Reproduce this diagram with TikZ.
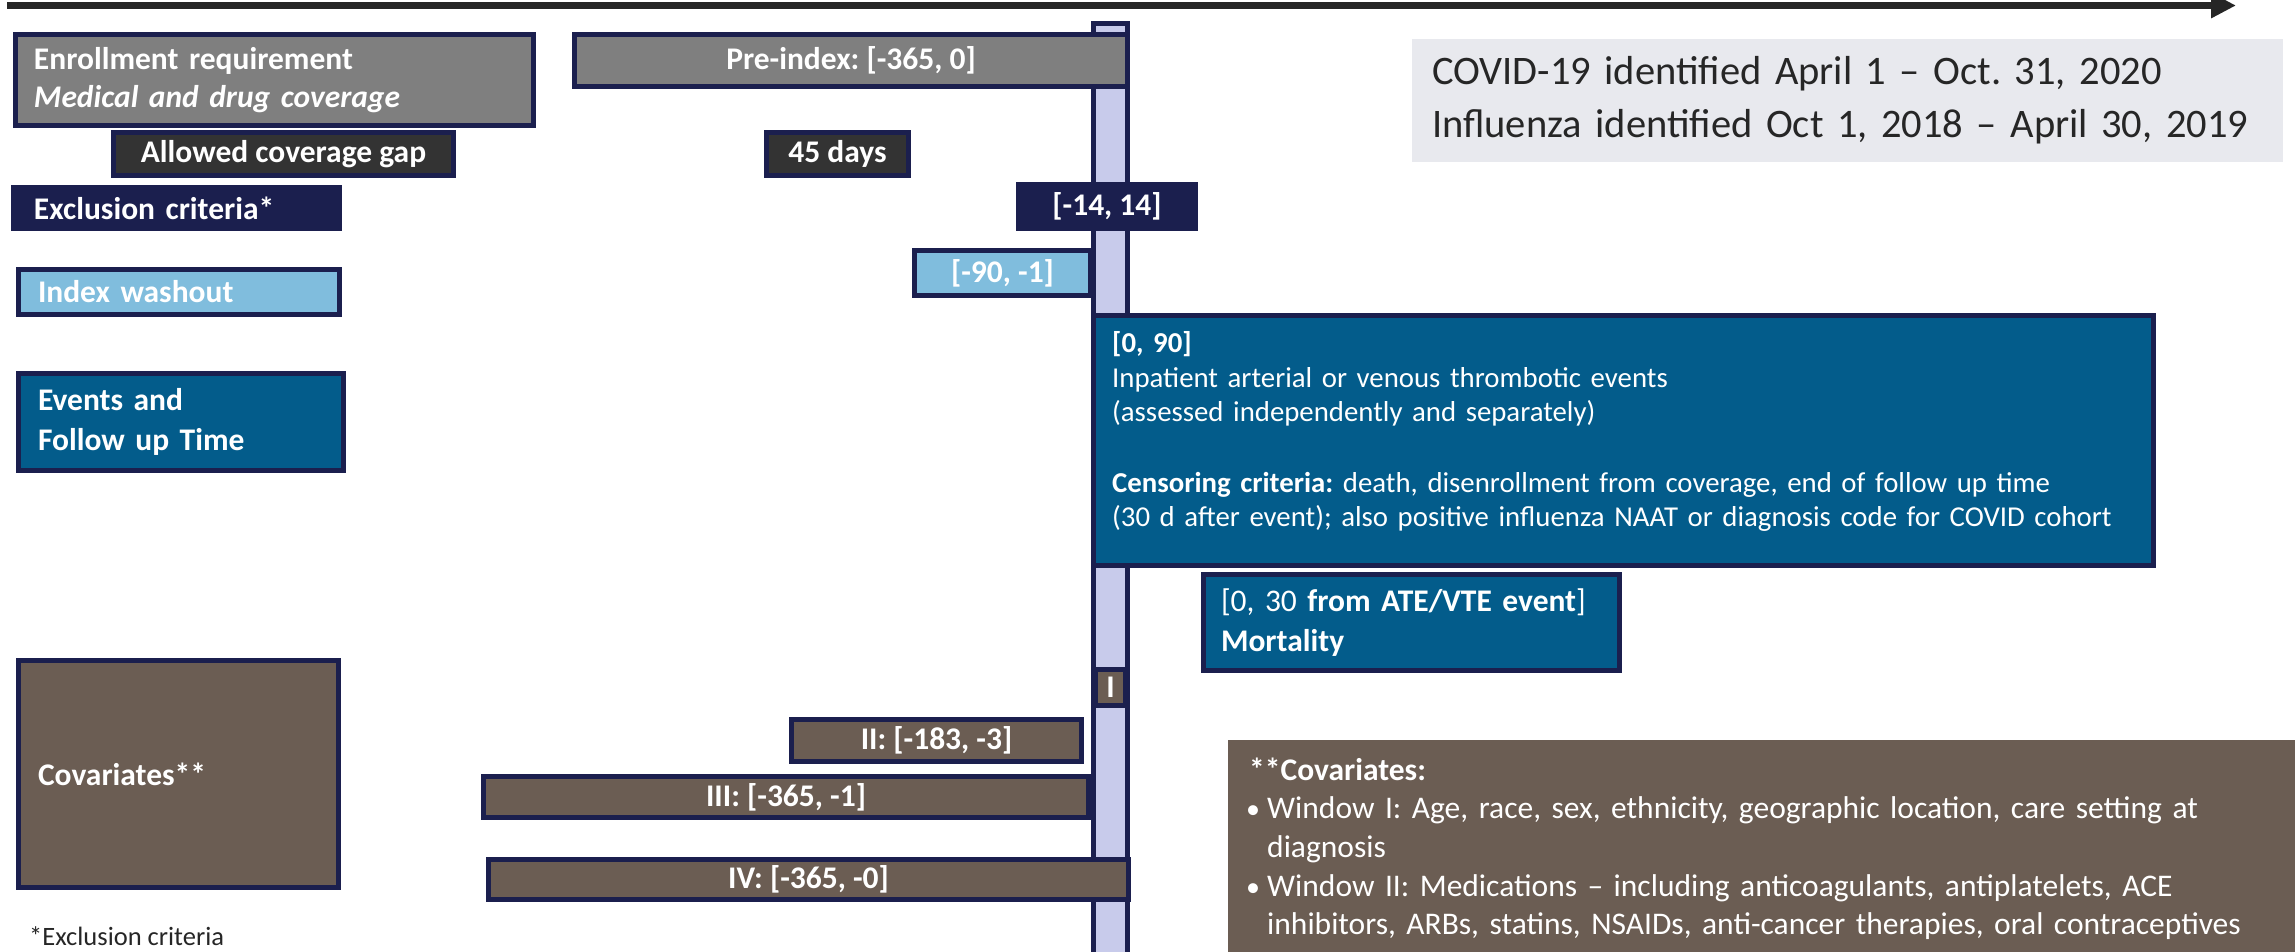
\documentclass[tikz,border=0pt]{standalone}
\usepackage{fontspec}
\setmainfont{Carlito}
\usetikzlibrary{arrows.meta}
\definecolor{navy}{HTML}{1B1F4E}
\definecolor{boxgray}{HTML}{7F7F7F}
\definecolor{gapgray}{HTML}{333333}
\definecolor{lightblue}{HTML}{80BDDD}
\definecolor{evblue}{HTML}{035C8B}
\definecolor{covbrown}{HTML}{6B5D53}
\definecolor{barlav}{HTML}{C8CBEB}
\definecolor{notegray}{HTML}{E8E9EE}
\definecolor{arrowdark}{HTML}{262626}
\tikzset{
  bbox/.style={draw=navy, line width=5pt, inner sep=0pt, text=white,
    font=\fontsize{31.5}{38}\selectfont\bfseries},
  plaintext/.style={inner sep=0pt, align=left, text=white}
}
% centred box from corners: name, style, x1, y1, x2, y2, text
\newcommand\mkcbox[7]{\node[bbox,#2,minimum width={(#5)-(#3)},minimum height={(#6)-(#4)}] (#1) at ({((#3)+(#5))/2},{((#4)+(#6))/2}) {#7};}
% left aligned box from corners: name, style, x1, y1, x2, y2, text, pad
\newcommand\mklbox[8]{\pgfmathsetmacro\mytw{(#5)-(#3)-2*(#8)}\node[bbox,#2,align=left,inner xsep=#8pt,text width=\mytw pt,minimum height={(#6)-(#4)}] (#1) at ({((#3)+(#5))/2},{((#4)+(#6))/2}) {#7};}
\newcommand\covbul{\makebox[18pt][l]{\hspace{-3pt}{\fontsize{28}{28}\selectfont•}}}
\begin{document}
\frenchspacing
\begin{tikzpicture}[x=1pt,y=-1pt]
\useasboundingbox (0,0) rectangle (2295,952);
% time arrow
\coordinate (arrS) at (7,5.5);
\coordinate (arrE) at (2236,5.5);
\draw[arrowdark, line width=7pt, -{Triangle[length=25pt,width=24pt]}] (arrS) -- (arrE);
% index bar
\mkcbox{bar}{fill=barlav}{1093.5}{23.5}{1127.5}{980}{}
% enrollment
\mklbox{enroll}{fill=boxgray}{15.5}{34.5}{533.5}{125.5}{Enrollment requirement\\\textit{Medical and drug coverage}}{18.5}
\mkcbox{pre}{fill=boxgray}{574.5}{34.5}{1127.5}{86.5}{Pre-index: [-365, 0]}
\mkcbox{gap}{fill=gapgray}{113.5}{132.5}{453.5}{175.5}{Allowed coverage gap}
\mkcbox{days}{fill=gapgray}{766.5}{132.5}{908.5}{175.5}{45 days}
% exclusion
\mklbox{excl}{fill=navy}{13.5}{187.5}{339.5}{228.5}{Exclusion criteria*}{20.5}
\mkcbox{excw}{fill=navy}{1018.5}{184.5}{1195.5}{228.5}{[-14, 14]}
% washout
\mklbox{wash}{fill=lightblue}{18.5}{269.5}{339.5}{314.5}{Index washout}{19.5}
\mkcbox{washw}{fill=lightblue}{914.5}{250.5}{1090.5}{295.5}{[-90, -1]}
% events
\mklbox{ev}{fill=evblue, font=\fontsize{31.5}{40}\selectfont\bfseries}{18.5}{373.5}{343.5}{470.5}{Events and\\Follow up Time}{19.5}
\mkcbox{big}{fill=evblue}{1093.5}{315.5}{2153.5}{565.5}{}
\node[plaintext, anchor=base west, text width=1020pt, font=\fontsize{28.8}{35}\selectfont] (bigtxt) at (1112,352)
  {\textbf{[0, 90]}\\Inpatient arterial or venous thrombotic events\\(assessed independently and separately)\\[35pt]\textbf{Censoring criteria:} death, disenrollment from coverage, end of follow up time\\(30 d after event); also positive influenza NAAT or diagnosis code for COVID cohort};
\mklbox{mort}{fill=evblue, font=\fontsize{31.5}{40}\selectfont}{1203.5}{574.5}{1619.5}{670.5}{[0, 30 \textbf{from ATE/VTE event}]\\\textbf{Mortality}}{17.5}
% covariates
\mklbox{cov}{fill=covbrown}{18.5}{660.5}{338.5}{887.5}{Covariates**}{19.5}
\mkcbox{wI}{fill=covbrown}{1095.5}{669.5}{1125.5}{705.5}{I}
\mkcbox{wII}{fill=covbrown}{791.5}{719.5}{1081.5}{761.5}{II: [-183, -3]}
\mkcbox{wIII}{fill=covbrown}{483.5}{776.5}{1088.5}{817.5}{III: [-365, -1]}
\mkcbox{wIV}{fill=covbrown}{488.5}{859.5}{1128.5}{899.5}{IV: [-365, -0]}
% study period note
\mklbox{covid}{fill=notegray, draw=none, text=arrowdark, font=\fontsize{40.5}{53}\selectfont}{1412}{39}{2283}{162}{COVID-19 identified April 1 – Oct. 31, 2020\\Influenza identified Oct 1, 2018 – April 30, 2019}{20}
% covariates note
\mkcbox{covnote}{fill=covbrown, draw=none}{1228}{740}{2310}{975}{}
\node[plaintext, anchor=base west, text width=1040pt, font=\fontsize{31.5}{38.7}\selectfont] (covtxt) at (1249,780)
  {\textbf{**Covariates:}\\
   \covbul Window I: Age, race, sex, ethnicity, geographic location, care setting at\\
   \hspace*{18pt}diagnosis\\
   \covbul Window II: Medications – including anticoagulants, antiplatelets, ACE\\
   \hspace*{18pt}inhibitors, ARBs, statins, NSAIDs, anti-cancer therapies, oral contraceptives};
% footnote
\node[inner sep=0pt, anchor=base west, text=arrowdark, font=\fontsize{26.5}{30}\selectfont] (foot) at (29,945) {*Exclusion criteria};
\end{tikzpicture}
\end{document}
